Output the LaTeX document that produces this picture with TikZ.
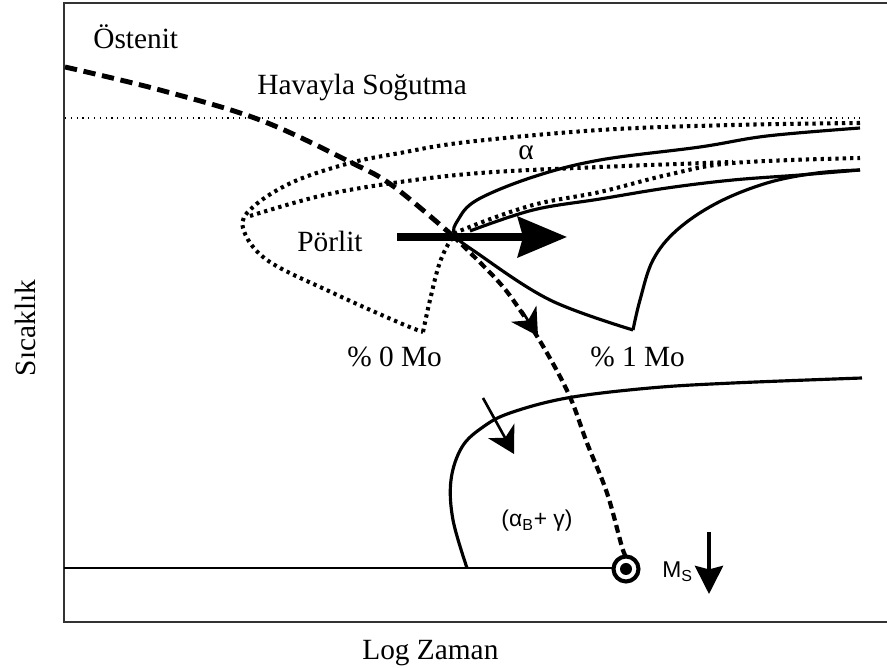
\documentclass[tikz,border=0pt]{standalone}
\usepackage{fontspec}
\setmainfont{Liberation Serif}
\newfontfamily\labsans{Liberation Sans}
\usetikzlibrary{arrows.meta}

\begin{document}
\begin{tikzpicture}[
  x=0.02cm, y=-0.02cm,
  frame/.style={line width=1.3pt, color=black!80},
  solidc/.style={line width=1.8pt},
  dotc/.style={line width=2.3pt, dash pattern=on 1.9pt off 2.3pt},
  thindot/.style={line width=0.7pt, dash pattern=on 0.7pt off 2.6pt},
  dashc/.style={line width=2.8pt, dash pattern=on 7pt off 3.8pt},
  dashlow/.style={line width=2.4pt, dash pattern=on 4.5pt off 2.6pt},
  lbl/.style={font=\fontsize{16.7}{20}\selectfont, inner sep=0pt, anchor=base west},
  sanslbl/.style={font=\labsans\fontsize{13}{15}\selectfont, inner sep=0pt},
  tipc/.style={-{Stealth[length=15pt, width=17pt, inset=4.5pt]}, line width=1.5pt}
]
  \useasboundingbox (0,0) rectangle (887,668);

  % frame and Ms line
  \draw[frame] (887,3) -- (64,3) -- (64,622) -- (887,622);
  \coordinate (msdot) at (626,569);
  \draw[line width=1.1pt] (64,568) -- (613,568);
  \draw[line width=2.3pt] (msdot) circle[radius=12.5];
  \fill (msdot) circle[radius=6];
  \draw[thindot] (65,118) -- (860,118);

  % 0 % Mo curves
  \draw[dotc] plot[smooth, tension=0.6] coordinates {(860,123) (733,125) (600,130) (467,142)
    (400,153) (350,163) (293,182) (253,207) (243,228) (267,260) (333,293) (400,323) (423,332)};
  \draw[dotc] plot[smooth, tension=0.6] coordinates {(423,332) (430,300) (440,262) (453,237)
    (467,228) (533,205) (600,192) (667,175) (733,163) (860,158)};
  \draw[dotc] plot[smooth, tension=0.6] coordinates {(250,216) (320,196) (393,183) (480,173)
    (600,167) (733,162)};

  % 1 % Mo curves
  \draw[solidc] plot[smooth, tension=0.6] coordinates {(860,128) (767,136) (700,147) (600,160)
    (533,177) (477,200) (458,220) (455,235) (477,253) (550,300) (633,330)};
  \draw[solidc] plot[smooth, tension=0.6] coordinates {(633,330) (640,300) (653,260) (677,230)
    (717,203) (767,183) (817,173) (860,170)};
  \draw[solidc] plot[smooth, tension=0.6] coordinates {(470,231) (533,210) (600,199) (667,188)
    (733,180) (800,175) (860,170)};

  % bainite curve
  \draw[solidc] plot[smooth, tension=0.6] coordinates {(862,378) (733,383) (650,388) (567,398)
    (510,413) (483,427) (462,447) (451,480) (453,520) (467,568)};

  % cooling path
  \coordinate (cross) at (453,236);
  \draw[dashc] plot[smooth, tension=0.6] coordinates {(65,67) (160,90) (260,120) (350,162)
    (393,186) (cross)};
  \draw[dashlow] plot[smooth, tension=0.6] coordinates {(cross) (497,280) (520,310) (547,353)
    (570,397) (587,443) (607,493) (622,547) (626,556)};

  % arrows
  \coordinate (pstart) at (397,237);
  \coordinate (pend) at (567,237);
  \draw[line width=4pt, -{Stealth[length=28pt, width=23pt, inset=3pt]}] (pstart) -- (pend);
  \coordinate (ctail) at (522,311);
  \coordinate (chead) at (538,336);
  \draw[tipc] (ctail) -- (chead);
  \coordinate (btail) at (483,398);
  \coordinate (bhead) at (514,454);
  \draw[tipc] (btail) -- (bhead);
  \coordinate (mtail) at (709,532);
  \coordinate (mhead) at (709,594);
  \draw[line width=2pt, -{Stealth[length=16pt, width=16pt, inset=2pt]}] (mtail) -- (mhead);

  % labels
  \node[lbl] (austenite) at (93,49) {Östenit};
  \node[lbl] (aircool) at (257,95) {Havayla Soğutma};
  \node[lbl] (alpha) at (518,160) {α};
  \node[lbl] (pearlite) at (297,252) {Pörlit};
  \node[lbl] (mozero) at (347,367) {\% 0 Mo};
  \node[lbl] (moone) at (590,367) {\% 1 Mo};
  \node[sanslbl] (bainite) at (537,521) {(α\textsubscript{B}+ γ)};
  \node[sanslbl, anchor=base west] (ms) at (662,578) {M\textsubscript{S}};
  \node[lbl] (xlab) at (362,660) {Log Zaman};
  \node[lbl, anchor=base, rotate=90] (ylab) at (35,328) {Sıcaklık};
\end{tikzpicture}
\end{document}
